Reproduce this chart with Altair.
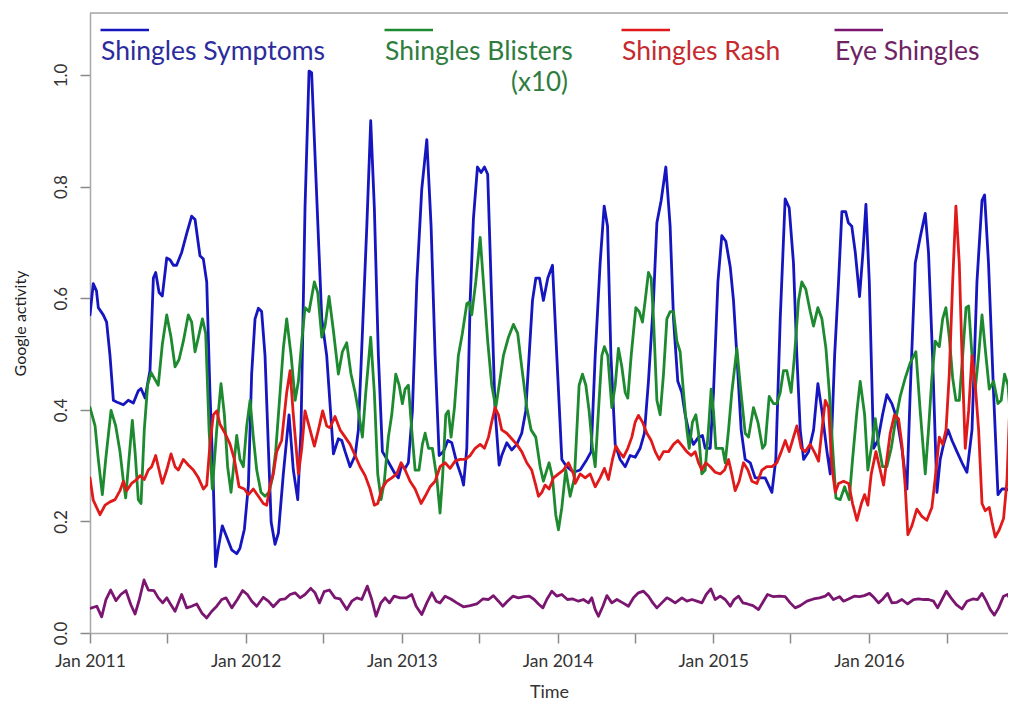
import altair as alt
import pandas as pd

# ---------------- data (month offset from Jan 2011, value) ----------------
symptoms = [(0,0.570),(0.25,0.626),(0.5,0.613),(0.64,0.583),(1.02,0.570),(1.28,0.557),(1.54,0.497),(1.8,0.417),(2.05,0.414),(2.57,0.409),(2.95,0.417),(3.34,0.412),(3.72,0.434),(3.93,0.438),(4.24,0.421),(4.62,0.470),(4.88,0.636),(5.06,0.646),(5.32,0.610),(5.57,0.604),(5.91,0.672),(6.16,0.669),(6.42,0.659),(6.67,0.659),(7.06,0.682),(7.45,0.716),(7.83,0.747),(8.09,0.741),(8.47,0.676),(8.73,0.670),(8.99,0.629),(9.24,0.431),(9.5,0.265),(9.67,0.119),(9.88,0.152),(10.19,0.192),(10.53,0.172),(10.91,0.149),(11.3,0.142),(11.55,0.152),(11.89,0.186),(12.2,0.265),(12.45,0.464),(12.71,0.563),(12.97,0.582),(13.22,0.576),(13.48,0.497),(13.74,0.331),(13.95,0.199),(14.25,0.159),(14.51,0.179),(14.89,0.285),(15.33,0.391),(15.66,0.292),(16.0,0.239),(16.25,0.364),(16.56,0.762),(16.87,1.007),(17.07,1.004),(17.38,0.828),(17.85,0.563),(18.23,0.497),(18.75,0.321),(19.13,0.348),(19.39,0.345),(19.65,0.325),(20.03,0.298),(20.42,0.318),(20.67,0.364),(20.93,0.510),(21.32,0.729),(21.62,0.918),(21.9,0.762),(22.21,0.497),(22.52,0.325),(22.78,0.315),(23.11,0.301),(23.5,0.285),(23.75,0.278),(24.01,0.301),(24.27,0.295),(24.52,0.305),(24.83,0.398),(25.17,0.629),(25.55,0.795),(25.94,0.884),(26.27,0.729),(26.58,0.497),(26.89,0.318),(27.22,0.325),(27.56,0.345),(27.86,0.341),(28.25,0.305),(28.64,0.278),(28.77,0.265),(29.02,0.331),(29.28,0.596),(29.53,0.742),(29.84,0.835),(30.12,0.825),(30.38,0.835),(30.63,0.822),(30.89,0.629),(31.2,0.398),(31.51,0.301),(31.71,0.318),(32.1,0.341),(32.48,0.328),(32.87,0.338),(33.25,0.358),(33.56,0.398),(33.82,0.497),(34.08,0.596),(34.34,0.636),(34.62,0.636),(34.92,0.596),(35.26,0.636),(35.62,0.659),(35.95,0.497),(36.34,0.311),(36.72,0.298),(37.24,0.288),(37.75,0.292),(38.27,0.311),(38.6,0.325),(38.91,0.497),(39.29,0.663),(39.6,0.765),(39.86,0.729),(40.12,0.497),(40.45,0.338),(40.83,0.311),(41.22,0.298),(41.6,0.318),(41.99,0.315),(42.37,0.331),(42.7,0.358),(43.01,0.451),(43.4,0.596),(43.66,0.735),(43.99,0.775),(44.35,0.835),(44.68,0.729),(44.94,0.563),(45.27,0.451),(45.58,0.431),(45.84,0.391),(46.15,0.358),(46.48,0.338),(46.87,0.351),(47.17,0.354),(47.38,0.331),(47.77,0.331),(48.02,0.431),(48.36,0.629),(48.66,0.712),(48.97,0.702),(49.31,0.656),(49.56,0.596),(49.82,0.497),(50.15,0.364),(50.46,0.311),(50.85,0.305),(51.23,0.278),(51.62,0.278),(52.0,0.278),(52.26,0.265),(52.52,0.252),(52.82,0.311),(53.16,0.563),(53.54,0.778),(53.85,0.762),(54.18,0.663),(54.44,0.497),(54.7,0.364),(54.96,0.311),(55.34,0.325),(55.73,0.364),(56.06,0.447),(56.37,0.398),(56.76,0.325),(57.01,0.285),(57.35,0.497),(57.65,0.629),(57.91,0.755),(58.2,0.755),(58.41,0.735),(58.67,0.729),(58.94,0.682),(59.27,0.603),(59.53,0.682),(59.76,0.768),(60.02,0.629),(60.35,0.331),(60.68,0.345),(61.04,0.391),(61.37,0.427),(61.76,0.411),(62.15,0.384),(62.53,0.331),(62.92,0.258),(63.17,0.431),(63.56,0.663),(63.94,0.709),(64.33,0.752),(64.58,0.682),(64.89,0.497),(65.23,0.252),(65.48,0.311),(65.74,0.338),(66.08,0.364),(66.39,0.345),(66.77,0.325),(67.16,0.305),(67.54,0.288),(67.93,0.364),(68.31,0.629),(68.7,0.775),(68.9,0.785),(69.2,0.663),(69.59,0.431),(69.93,0.248),(70.24,0.258),(70.62,0.258),(71.01,0.252),(71.34,0.232)]

blisters = [(0,0.404),(0.39,0.371),(0.64,0.311),(0.95,0.248),(1.21,0.311),(1.62,0.399),(1.98,0.371),(2.31,0.325),(2.57,0.272),(2.75,0.242),(3.0,0.311),(3.26,0.381),(3.47,0.325),(3.72,0.239),(3.93,0.232),(4.18,0.364),(4.44,0.444),(4.7,0.467),(5.01,0.454),(5.26,0.444),(5.57,0.517),(5.91,0.570),(6.24,0.530),(6.55,0.477),(6.86,0.490),(7.19,0.523),(7.57,0.570),(7.83,0.557),(8.09,0.504),(8.35,0.530),(8.66,0.563),(8.91,0.537),(9.17,0.364),(9.42,0.258),(9.76,0.364),(10.09,0.447),(10.35,0.391),(10.6,0.298),(10.86,0.252),(11.12,0.311),(11.3,0.354),(11.55,0.311),(11.81,0.298),(12.07,0.371),(12.33,0.417),(12.58,0.351),(12.84,0.292),(13.17,0.252),(13.48,0.245),(13.79,0.252),(14.05,0.278),(14.3,0.325),(14.64,0.431),(14.89,0.510),(15.15,0.563),(15.49,0.497),(15.8,0.417),(16.05,0.451),(16.31,0.523),(16.56,0.583),(16.87,0.576),(17.28,0.629),(17.54,0.610),(17.85,0.530),(18.1,0.550),(18.41,0.603),(18.74,0.543),(19.13,0.464),(19.44,0.504),(19.77,0.520),(20.1,0.464),(20.42,0.431),(20.67,0.398),(20.98,0.351),(21.24,0.431),(21.62,0.530),(21.9,0.431),(22.16,0.285),(22.42,0.239),(22.67,0.272),(22.98,0.351),(23.24,0.391),(23.55,0.464),(23.81,0.444),(24.06,0.411),(24.27,0.437),(24.52,0.444),(24.78,0.364),(25.04,0.292),(25.34,0.292),(25.6,0.338),(25.81,0.358),(26.07,0.331),(26.37,0.331),(26.71,0.278),(26.96,0.215),(27.15,0.278),(27.4,0.391),(27.6,0.398),(27.81,0.351),(28.07,0.404),(28.37,0.497),(28.68,0.537),(29.02,0.590),(29.2,0.593),(29.4,0.570),(29.71,0.629),(30.05,0.709),(30.3,0.629),(30.63,0.523),(30.94,0.444),(31.25,0.404),(31.51,0.444),(31.84,0.497),(32.23,0.530),(32.61,0.553),(32.94,0.537),(33.25,0.477),(33.64,0.404),(33.97,0.364),(34.33,0.351),(34.67,0.298),(34.92,0.272),(35.18,0.292),(35.36,0.305),(35.62,0.278),(35.87,0.212),(36.08,0.185),(36.34,0.225),(36.64,0.292),(36.98,0.245),(37.31,0.278),(37.67,0.444),(37.93,0.464),(38.19,0.444),(38.44,0.398),(38.7,0.331),(38.91,0.298),(39.16,0.398),(39.42,0.497),(39.62,0.513),(39.88,0.497),(40.19,0.404),(40.45,0.444),(40.7,0.510),(40.96,0.477),(41.22,0.431),(41.42,0.421),(41.68,0.497),(42.04,0.583),(42.3,0.576),(42.55,0.557),(42.76,0.596),(43.01,0.646),(43.22,0.636),(43.4,0.563),(43.66,0.417),(43.91,0.391),(44.17,0.464),(44.43,0.563),(44.68,0.576),(44.94,0.576),(45.2,0.523),(45.45,0.504),(45.71,0.431),(45.97,0.364),(46.15,0.331),(46.4,0.378),(46.66,0.391),(46.87,0.358),(47.12,0.285),(47.38,0.292),(47.63,0.364),(47.84,0.437),(48.02,0.398),(48.2,0.331),(48.46,0.331),(48.72,0.331),(48.92,0.305),(49.18,0.364),(49.43,0.431),(49.82,0.510),(50.08,0.444),(50.46,0.358),(50.72,0.351),(51.1,0.404),(51.44,0.378),(51.8,0.331),(52.0,0.338),(52.31,0.424),(52.64,0.411),(52.9,0.411),(53.16,0.431),(53.41,0.470),(53.67,0.470),(54.0,0.431),(54.26,0.497),(54.57,0.596),(54.82,0.629),(55.13,0.616),(55.47,0.576),(55.72,0.550),(56.06,0.583),(56.37,0.563),(56.68,0.510),(56.94,0.431),(57.2,0.331),(57.45,0.242),(57.78,0.239),(58.12,0.262),(58.47,0.239),(58.73,0.311),(59.07,0.398),(59.32,0.451),(59.66,0.391),(59.91,0.292),(60.22,0.338),(60.48,0.384),(60.73,0.338),(61.04,0.298),(61.37,0.298),(61.71,0.331),(62.02,0.378),(62.4,0.424),(62.79,0.457),(63.17,0.484),(63.61,0.504),(63.94,0.398),(64.33,0.285),(64.58,0.364),(64.84,0.457),(65.1,0.523),(65.41,0.513),(65.67,0.563),(65.92,0.583),(66.18,0.530),(66.44,0.457),(66.69,0.417),(66.95,0.417),(67.21,0.497),(67.47,0.583),(67.67,0.586),(67.93,0.497),(68.18,0.437),(68.44,0.497),(68.7,0.570),(69.0,0.497),(69.26,0.437),(69.59,0.451),(69.93,0.411),(70.18,0.417),(70.44,0.464),(70.7,0.444),(70.96,0.364),(71.14,0.325),(71.34,0.345)]

rash = [(0,0.278),(0.25,0.238),(0.77,0.212),(1.16,0.229),(1.54,0.235),(1.93,0.239),(2.31,0.255),(2.57,0.272),(2.82,0.255),(3.2,0.268),(3.59,0.275),(3.85,0.282),(4.18,0.275),(4.49,0.292),(4.75,0.298),(5.06,0.318),(5.26,0.298),(5.57,0.268),(5.91,0.292),(6.24,0.321),(6.55,0.298),(6.8,0.292),(7.19,0.311),(7.57,0.301),(7.96,0.292),(8.35,0.278),(8.73,0.258),(8.99,0.265),(9.24,0.338),(9.5,0.391),(9.76,0.398),(10.01,0.374),(10.4,0.358),(10.79,0.338),(11.12,0.311),(11.48,0.262),(11.89,0.258),(12.2,0.248),(12.58,0.258),(12.97,0.245),(13.35,0.232),(13.61,0.229),(13.87,0.265),(14.12,0.285),(14.38,0.325),(14.76,0.345),(15.15,0.431),(15.41,0.470),(15.66,0.391),(16.05,0.285),(16.31,0.331),(16.56,0.398),(16.95,0.364),(17.28,0.335),(17.59,0.364),(17.92,0.398),(18.23,0.371),(18.49,0.368),(18.87,0.388),(19.26,0.364),(19.65,0.351),(20.03,0.338),(20.42,0.318),(20.8,0.298),(21.19,0.282),(21.57,0.258),(21.9,0.229),(22.16,0.232),(22.47,0.258),(22.85,0.272),(23.24,0.278),(23.62,0.285),(23.96,0.305),(24.27,0.292),(24.65,0.272),(25.04,0.258),(25.5,0.232),(25.81,0.245),(26.19,0.262),(26.58,0.272),(26.96,0.298),(27.35,0.305),(27.73,0.295),(28.12,0.308),(28.5,0.311),(28.89,0.311),(29.28,0.318),(29.66,0.331),(30.05,0.338),(30.38,0.331),(30.69,0.351),(30.94,0.378),(31.2,0.404),(31.46,0.391),(31.71,0.364),(32.1,0.358),(32.48,0.348),(32.87,0.338),(33.25,0.325),(33.64,0.305),(34.02,0.292),(34.33,0.265),(34.54,0.245),(34.8,0.252),(35.05,0.265),(35.36,0.258),(35.7,0.278),(36.08,0.285),(36.46,0.292),(36.85,0.305),(37.24,0.285),(37.37,0.268),(37.75,0.285),(38.14,0.278),(38.52,0.285),(38.91,0.262),(39.29,0.278),(39.62,0.295),(39.93,0.275),(40.24,0.311),(40.5,0.335),(40.75,0.325),(41.09,0.315),(41.42,0.331),(41.73,0.351),(41.99,0.378),(42.24,0.390),(42.55,0.378),(42.89,0.358),(43.22,0.345),(43.53,0.325),(43.84,0.311),(44.17,0.325),(44.56,0.325),(44.94,0.338),(45.27,0.345),(45.63,0.335),(45.96,0.325),(46.3,0.318),(46.61,0.325),(46.87,0.305),(47.12,0.292),(47.43,0.305),(47.77,0.298),(48.15,0.288),(48.54,0.285),(48.87,0.292),(49.18,0.311),(49.43,0.285),(49.69,0.255),(50.0,0.272),(50.33,0.305),(50.67,0.292),(50.98,0.272),(51.36,0.268),(51.75,0.292),(52.13,0.298),(52.52,0.298),(52.9,0.305),(53.24,0.325),(53.55,0.345),(53.85,0.325),(54.18,0.351),(54.44,0.371),(54.78,0.331),(55.08,0.325),(55.47,0.338),(55.86,0.321),(56.11,0.308),(56.37,0.364),(56.63,0.417),(56.88,0.404),(57.14,0.298),(57.4,0.252),(57.65,0.268),(58.04,0.272),(58.43,0.268),(58.73,0.232),(59.07,0.202),(59.41,0.232),(59.66,0.248),(59.91,0.229),(60.17,0.285),(60.53,0.325),(60.86,0.292),(61.12,0.265),(61.37,0.311),(61.63,0.358),(61.96,0.391),(62.27,0.384),(62.53,0.338),(62.78,0.265),(62.99,0.176),(63.3,0.192),(63.68,0.222),(64.07,0.209),(64.45,0.202),(64.84,0.225),(65.1,0.278),(65.41,0.351),(65.67,0.338),(65.93,0.364),(66.18,0.464),(66.44,0.629),(66.69,0.765),(66.95,0.663),(67.16,0.497),(67.41,0.331),(67.67,0.398),(67.93,0.497),(68.18,0.444),(68.44,0.364),(68.7,0.232),(68.95,0.219),(69.26,0.225),(69.47,0.199),(69.72,0.172),(70.03,0.185),(70.36,0.205),(70.62,0.272),(70.88,0.431),(71.13,0.616),(71.34,0.649)]

eye = [(0.0,0.044),(0.52,0.048),(0.9,0.029),(1.23,0.060),(1.59,0.077),(2.0,0.058),(2.37,0.069),(2.77,0.076),(3.14,0.051),(3.47,0.034),(3.8,0.060),(4.16,0.095),(4.49,0.077),(4.93,0.076),(5.26,0.063),(5.6,0.054),(5.91,0.063),(6.22,0.051),(6.55,0.039),(7.06,0.069),(7.45,0.045),(7.83,0.048),(8.22,0.052),(8.61,0.036),(8.99,0.027),(9.38,0.039),(9.76,0.048),(10.15,0.060),(10.48,0.063),(10.92,0.045),(11.35,0.060),(11.76,0.076),(12.12,0.069),(12.46,0.057),(12.84,0.048),(13.35,0.064),(13.74,0.057),(14.12,0.047),(14.64,0.060),(15.02,0.061),(15.41,0.069),(15.79,0.072),(16.18,0.063),(16.56,0.069),(17.0,0.080),(17.33,0.072),(17.67,0.054),(18.03,0.074),(18.44,0.077),(18.87,0.063),(19.26,0.061),(19.78,0.042),(20.16,0.057),(20.55,0.063),(20.93,0.060),(21.36,0.084),(21.7,0.060),(22.03,0.030),(22.4,0.054),(22.73,0.063),(23.06,0.054),(23.42,0.066),(23.88,0.063),(24.35,0.063),(24.78,0.069),(25.12,0.048),(25.55,0.033),(25.94,0.054),(26.33,0.072),(26.66,0.057),(26.96,0.054),(27.35,0.066),(27.79,0.061),(28.25,0.054),(28.76,0.047),(29.28,0.049),(29.79,0.052),(30.25,0.061),(30.69,0.060),(31.07,0.067),(31.46,0.057),(31.79,0.048),(32.15,0.057),(32.57,0.066),(33.0,0.063),(33.44,0.065),(33.84,0.066),(34.21,0.060),(34.54,0.052),(34.88,0.045),(35.18,0.060),(35.57,0.075),(35.96,0.066),(36.34,0.069),(36.77,0.060),(37.19,0.061),(37.62,0.057),(38.0,0.060),(38.39,0.054),(38.65,0.063),(38.91,0.042),(39.16,0.030),(39.5,0.048),(39.81,0.067),(40.19,0.054),(40.58,0.060),(41.04,0.054),(41.47,0.048),(41.86,0.063),(42.24,0.072),(42.63,0.075),(43.01,0.066),(43.35,0.054),(43.66,0.045),(44.04,0.054),(44.43,0.063),(44.68,0.060),(45.07,0.054),(45.59,0.063),(45.97,0.057),(46.36,0.060),(46.74,0.057),(47.13,0.054),(47.46,0.069),(47.82,0.079),(48.15,0.060),(48.54,0.066),(48.92,0.060),(49.31,0.048),(49.61,0.060),(49.95,0.066),(50.28,0.054),(50.64,0.052),(51.06,0.049),(51.49,0.042),(51.87,0.057),(52.18,0.069),(52.64,0.065),(53.1,0.066),(53.54,0.065),(53.93,0.054),(54.31,0.045),(54.7,0.049),(55.22,0.057),(55.72,0.061),(56.19,0.063),(56.63,0.066),(56.88,0.071),(57.26,0.060),(57.73,0.065),(58.04,0.057),(58.42,0.061),(58.86,0.066),(59.27,0.065),(59.63,0.067),(60.04,0.071),(60.4,0.063),(60.73,0.054),(61.07,0.061),(61.42,0.071),(61.76,0.054),(62.15,0.055),(62.53,0.060),(62.97,0.052),(63.43,0.060),(63.81,0.061),(64.2,0.060),(64.58,0.060),(64.97,0.057),(65.28,0.045),(65.62,0.060),(65.95,0.075),(66.31,0.063),(66.72,0.051),(67.16,0.043),(67.54,0.057),(68.0,0.061),(68.36,0.060),(68.7,0.071),(69.03,0.057),(69.34,0.042),(69.65,0.032),(69.98,0.045),(70.36,0.066),(70.67,0.069),(71.01,0.054),(71.34,0.048)]

series_names = ["Shingles Symptoms", "Shingles Blisters", "Shingles Rash", "Eye Shingles"]
series_colors = ["#1616c0", "#1e8a30", "#e01a1a", "#7a1670"]
legend_text_colors = ["#2c2c9c", "#2f7d3e", "#c42a2e", "#6e2464"]
y_ticks = [0.0, 0.2, 0.4, 0.6, 0.8, 1.0]
x_domain = ["2011-01-01", "2016-11-22"]
tick_dates = ["2011-01-01", "2011-07-01", "2012-01-01", "2012-07-01", "2013-01-01", "2013-07-01",
              "2014-01-01", "2014-07-01", "2015-01-01", "2015-07-01", "2016-01-01", "2016-07-01"]

# ---------------- build table ----------------
start = pd.Timestamp("2011-01-01")
rows = []
for name, pts in zip(series_names, [symptoms, blisters, rash, eye]):
    for m, v in pts:
        t = start + pd.to_timedelta(m * 365.25 / 12, unit="D")
        rows.append({"series": name, "t": int(t.value // 10**6), "value": v})
df = pd.DataFrame(rows)

to_ms = lambda s: int(pd.Timestamp(s).value // 10**6)
xdom = [to_ms(s) for s in x_domain]
xticks = [to_ms(s) for s in tick_dates]

W, H = 918, 620
FONT = "Lato"
GREY = "#a8a8a8"

x_enc = alt.X("t:T",
              scale=alt.Scale(type="utc", domain=xdom),
              axis=alt.Axis(values=xticks, title="Time",
                            labelExpr="utcmonth(datum.value) == 0 ? utcFormat(datum.value, '%b %Y') : ''",
                            labelFontSize=17.5, labelColor="#333", labelPadding=9, labelFont=FONT,
                            tickSize=10, tickColor="#8a8a8a", tickWidth=1.5,
                            domain=True, domainColor=GREY, domainWidth=1.5, grid=False,
                            titleFontSize=18, titleFont=FONT, titleColor="#333", titleFontWeight="normal",
                            titlePadding=14, labelFlush=False))
y_enc = alt.Y("value:Q",
              scale=alt.Scale(domain=[0, 1.111], nice=False, zero=False),
              axis=alt.Axis(values=y_ticks, format=".1f", title="Google activity",
                            labelAngle=270, labelAlign="center", labelBaseline="bottom",
                            labelFontSize=17, labelColor="#333", labelPadding=10, labelFont=FONT,
                            tickSize=10, tickColor="#8a8a8a", tickWidth=1.5,
                            domain=True, domainColor=GREY, domainWidth=1.5, grid=False,
                            titleFontSize=16, titleFont=FONT, titleColor="#222", titleFontWeight="normal",
                            titleAngle=270, titleAlign="center", titleBaseline="bottom",
                            titleX=-62, titleY=H / 2))

lines = []
for name, col in zip(series_names, series_colors):
    lines.append(
        alt.Chart(df[df["series"] == name]).mark_line(color=col, strokeWidth=2.8, clip=True,
                                                       strokeJoin="round", strokeCap="round")
        .encode(x=x_enc, y=y_enc, order="t:Q")
    )

# top border of the plot box
top_border = alt.Chart(pd.DataFrame({"a": [0]})).mark_rule(color=GREY, strokeWidth=1.5).encode(
    x=alt.value(0), x2=alt.value(W), y=alt.value(0))

# ---------------- legend (text + short line above) ----------------
legend_layers = []
leg_x = [11, 295, 532, 745]
for i, (name, lc, tc) in enumerate(zip(series_names, series_colors, legend_text_colors)):
    x0 = leg_x[i]
    legend_layers.append(
        alt.Chart(pd.DataFrame({"a": [0]})).mark_rule(color=lc, strokeWidth=2.5)
        .encode(x=alt.value(x0 - 0.5), x2=alt.value(x0 + 48), y=alt.value(17))
    )
    legend_layers.append(
        alt.Chart(pd.DataFrame({"label": [name]})).mark_text(
            color=tc, fontSize=26.5, font=FONT, align="left", baseline="alphabetic")
        .encode(x=alt.value(x0), y=alt.value(47), text="label:N")
    )
legend_layers.append(
    alt.Chart(pd.DataFrame({"label": ["(x10)"]})).mark_text(
        color=legend_text_colors[1], fontSize=26, font=FONT, align="right", baseline="alphabetic")
    .encode(x=alt.value(478), y=alt.value(78), text="label:N")
)

chart = alt.layer(*lines, top_border, *legend_layers).properties(
    width=W, height=H,
    autosize=alt.AutoSizeParams(type="none"),
    padding={"left": 82, "top": 5, "right": 0, "bottom": 71},
).configure_view(stroke=None).configure(background="white")

chart.save("out.html", embed_options={"renderer": "svg", "actions": False})
